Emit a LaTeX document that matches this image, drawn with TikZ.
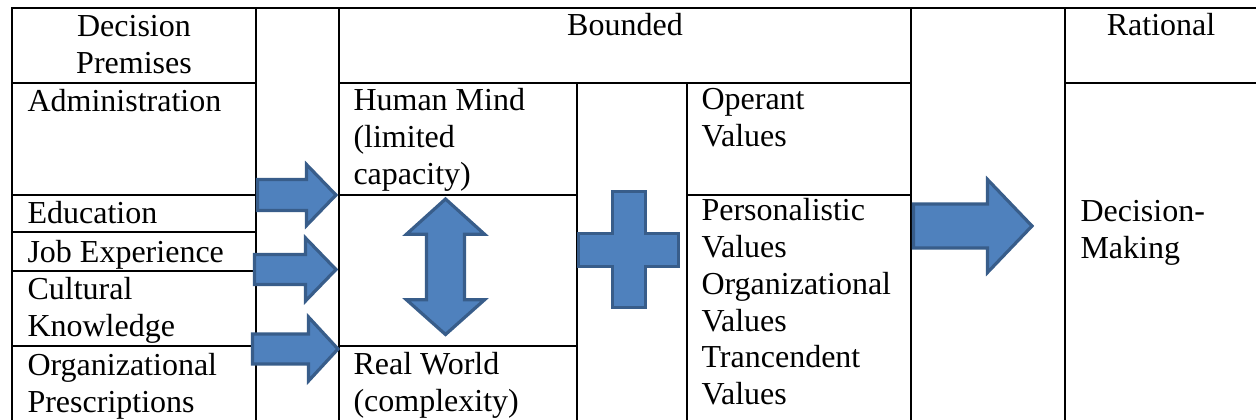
\documentclass[tikz,border=0pt]{standalone}
\usepackage{fontspec}
\setmainfont{Liberation Serif}
\usepackage{xcolor}
\definecolor{shapefill}{HTML}{4F81BD}
\definecolor{shapeline}{HTML}{385D8A}

\begin{document}
\begin{tikzpicture}[
    x=0.375pt, y=-0.375pt,
    rule/.style={line width=1pt, line cap=rect},
    cell/.style={anchor=north west, inner sep=0pt, align=left,
                 font=\fontsize{12}{13.8}\selectfont},
    head/.style={cell, anchor=north, align=center},
    blockshape/.style={fill=shapefill, draw=shapeline, line width=1.2pt, line join=miter}
]
    \useasboundingbox (0,0) rectangle (1256,420);

    % table rules
    \draw[rule] (12,8) -- (1262,8);
    \draw[rule] (12,83) -- (256,83) (339,83) -- (911,83) (1065,83) -- (1262,83);
    \draw[rule] (12,195) -- (256,195) (339,195) -- (577,195) (687,195) -- (911,195);
    \draw[rule] (12,232) -- (256,232);
    \draw[rule] (12,271) -- (256,271);
    \draw[rule] (12,346) -- (256,346) (339,346) -- (577,346);
    \foreach \x in {12,256,339,911,1065}
        \draw[rule] (\x,8) -- (\x,426);
    \foreach \x in {577,687}
        \draw[rule] (\x,83) -- (\x,426);

    % headings
    \node[head] (premises) at (134,15) {Decision\\Premises};
    \node[head] (bounded) at (625,13) {Bounded};
    \node[head] (rational) at (1161,13) {Rational};

    % premises
    \node[cell] (admin) at (27,89) {Administration};
    \node[cell] (edu) at (27,201) {Education};
    \node[cell] (job) at (27,240) {Job Experience};
    \node[cell] (culture) at (27,277) {Cultural\\Knowledge};
    \node[cell] (orgpres) at (27,353) {Organizational\\Prescriptions};

    % bounded part
    \node[cell] (mind) at (353,88) {Human Mind\\(limited\\capacity)};
    \node[cell] (world) at (353,352) {Real World\\(complexity)};
    \node[cell] (operant) at (701,88) {Operant\\Values};
    \node[cell] (values) at (701,198) {Personalistic\\Values\\Organizational\\Values\\Trancendent\\Values};

    % rational part
    \node[cell] (decmaking) at (1080,200) {Decision-\\Making};

    % block arrows
    \draw[blockshape] (257.5,179.5) -- (306.5,179.5) -- (306.5,164.5) -- (336,195)
        -- (306.5,225.5) -- (306.5,210.5) -- (257.5,210.5) -- cycle;
    \draw[blockshape] (254.5,254.5) -- (305.5,254.5) -- (305.5,238) -- (336,269.5)
        -- (305.5,301) -- (305.5,284.5) -- (254.5,284.5) -- cycle;
    \draw[blockshape] (252.5,334) -- (308.5,334) -- (308.5,317) -- (338,349)
        -- (308.5,381) -- (308.5,364) -- (252.5,364) -- cycle;
    \draw[blockshape] (913.5,204) -- (987.5,204) -- (987.5,179.5) -- (1032,226)
        -- (987.5,272.5) -- (987.5,248) -- (913.5,248) -- cycle;

    % up-down arrow
    \draw[blockshape] (445.5,199) -- (484.5,234.2) -- (464.5,234.2) -- (464.5,299.8)
        -- (484.5,299.8) -- (445.5,334.5) -- (406.5,299.8) -- (426.5,299.8)
        -- (426.5,234.2) -- (406.5,234.2) -- cycle;

    % plus sign
    \draw[blockshape] (612.5,191.5) -- (645.5,191.5) -- (645.5,233.5) -- (678.5,233.5)
        -- (678.5,266.5) -- (645.5,266.5) -- (645.5,307.5) -- (612.5,307.5)
        -- (612.5,266.5) -- (578.5,266.5) -- (578.5,233.5) -- (612.5,233.5) -- cycle;
\end{tikzpicture}
\end{document}
